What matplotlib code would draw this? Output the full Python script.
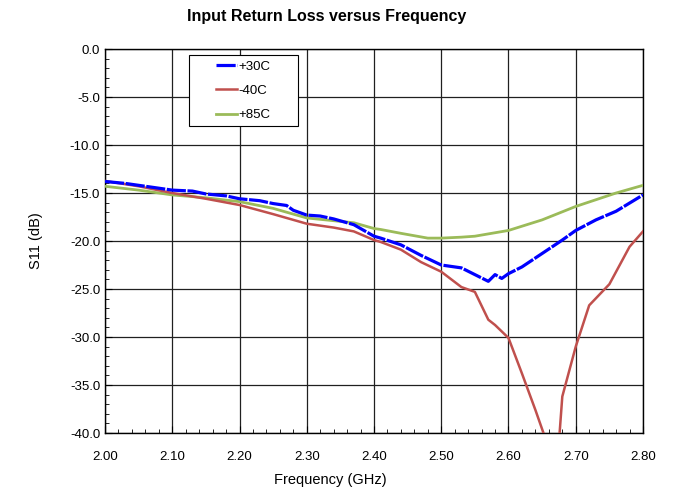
import numpy as np
import matplotlib
matplotlib.use("Agg")
import matplotlib.pyplot as plt
from matplotlib.patches import Rectangle
from matplotlib.ticker import MultipleLocator, FormatStrFormatter

plt.rcParams['font.family'] = ['Liberation Sans', 'DejaVu Sans']

# +30C
f_30 = [2.00, 2.03, 2.05, 2.08, 2.10, 2.13, 2.15, 2.18, 2.20, 2.23, 2.25, 2.27, 2.28, 2.30,
        2.32, 2.34, 2.37, 2.40, 2.41, 2.44, 2.47, 2.50, 2.53, 2.55, 2.57, 2.58, 2.59, 2.60,
        2.62, 2.65, 2.68, 2.70, 2.73, 2.76, 2.80]
s_30 = [-13.8, -14.0, -14.2, -14.5, -14.7, -14.8, -15.1, -15.3, -15.6, -15.8, -16.1, -16.3, -16.8, -17.3,
        -17.4, -17.7, -18.3, -19.5, -19.7, -20.4, -21.5, -22.5, -22.8, -23.5, -24.2, -23.5, -23.9, -23.4,
        -22.7, -21.3, -19.9, -18.9, -17.8, -16.9, -15.2]

# -40C
f_40 = [2.00, 2.05, 2.10, 2.15, 2.20, 2.25, 2.30, 2.34, 2.37, 2.40, 2.41, 2.44, 2.47,
        2.50, 2.53, 2.55, 2.57, 2.58, 2.60, 2.62, 2.64, 2.652, 2.664, 2.676, 2.68,
        2.70, 2.72, 2.75, 2.78, 2.80]
s_40 = [-13.75, -14.3, -15.0, -15.6, -16.25, -17.2, -18.2, -18.6, -19.0, -19.9, -20.1, -20.9, -22.2,
        -23.2, -24.8, -25.3, -28.2, -28.75, -30.1, -33.8, -37.6, -40.0, -45.0, -40.0, -36.2,
        -31.0, -26.7, -24.5, -20.6, -19.0]

# +85C
f_85 = [2.00, 2.05, 2.10, 2.15, 2.20, 2.25, 2.30, 2.37, 2.40, 2.41, 2.44, 2.48, 2.50,
        2.53, 2.55, 2.60, 2.65, 2.70, 2.76, 2.80]
s_85 = [-14.3, -14.7, -15.2, -15.5, -15.9, -16.6, -17.6, -18.1, -18.7, -18.8, -19.2, -19.7, -19.7,
        -19.6, -19.5, -18.9, -17.8, -16.4, -15.0, -14.2]

W, H = 674, 493
fig = plt.figure(figsize=(6.74, 4.93), dpi=100)
ax = fig.add_axes([0.1558, 0.1217, 0.7982, 0.7789])

ax.plot(f_30, s_30, color='#0000FF', lw=2.3, dashes=(6, 0.5), label='+30C', zorder=5)
ax.plot(f_40, s_40, color='#C0504D', lw=1.8, label='-40C', zorder=4)
ax.plot(f_85, s_85, color='#9BBB59', lw=2.0, label='+85C', zorder=3)

ax.set_xlim(2.0, 2.8)
ax.set_ylim(-40, 0)
ax.xaxis.set_major_locator(MultipleLocator(0.1))
ax.xaxis.set_minor_locator(MultipleLocator(0.02))
ax.yaxis.set_major_locator(MultipleLocator(5))
ax.yaxis.set_minor_locator(MultipleLocator(1))
ax.xaxis.set_major_formatter(FormatStrFormatter('%.2f'))
ax.yaxis.set_major_formatter(FormatStrFormatter('%.1f'))
ax.tick_params(which='both', direction='in', labelsize=9.5, colors='black')
ax.tick_params(which='major', length=5)
ax.tick_params(which='minor', length=3)
ax.tick_params(axis='x', which='major', pad=13)
ax.grid(True, which='major', color='#202020', lw=0.9)
for sp in ax.spines.values():
    sp.set_linewidth(1.0)

ax.set_xlabel('Frequency (GHz)', fontsize=10.5)
ax.xaxis.set_label_coords((330 - 105) / 538, -0.105)
ax.set_ylabel('S11 (dB)', fontsize=10.5, labelpad=19)
fig.text(327 / W, 1 - 17 / H, 'Input Return Loss versus Frequency', fontsize=11.5,
         fontweight='bold', ha='center', va='center')

# legend box (drawn separately so the entries sit centred in it)
box = Rectangle((189 / W, 1 - 126 / H), 109 / W, 71 / H, transform=fig.transFigure,
                facecolor='white', edgecolor='black', lw=0.8, clip_on=False, zorder=6)
ax.add_patch(box)
leg = ax.legend(loc='center', bbox_to_anchor=((189 + 109 / 2) / W, 1 - 91 / H),
                bbox_transform=fig.transFigure, frameon=False, fontsize=9.5,
                handlelength=1.6, handletextpad=0.1, borderpad=0.0, labelspacing=0.9)
leg.set_zorder(7)

fig.savefig('out.png', dpi=100)
